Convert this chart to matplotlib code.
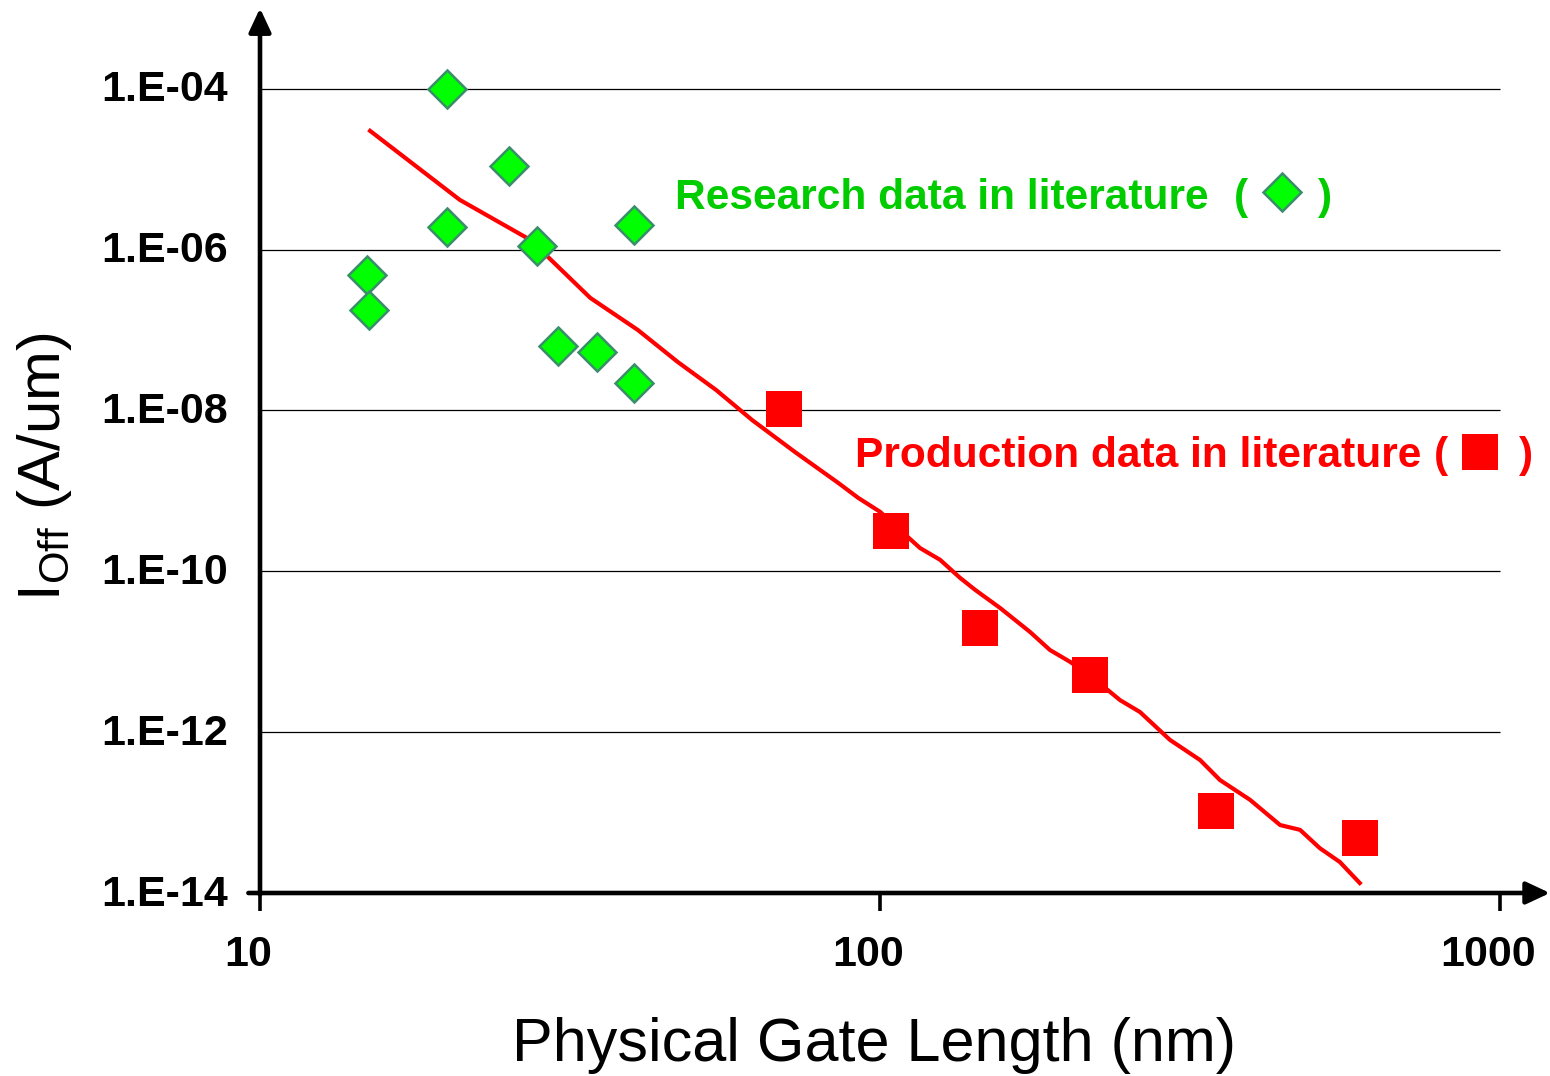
import matplotlib
matplotlib.use("Agg")
import matplotlib.pyplot as plt
from matplotlib.lines import Line2D
from matplotlib.transforms import ScaledTranslation

# ---- data ----
research_x = [20.0, 25.2, 20.0, 28.0, 40.1, 14.9, 15.0, 30.2, 35.0, 40.1]
research_y = [1.0e-4, 1.1e-5, 1.9e-6, 1.1e-6, 2.0e-6, 4.9e-7, 1.8e-7, 6.3e-8, 5.3e-8, 2.2e-8]

production_x = [70.0, 104.0, 145.0, 218.0, 348.0, 594.0]
production_y = [1.05e-8, 3.2e-10, 2.0e-11, 5.1e-12, 1.05e-13, 4.8e-14]

trend_x = [15.05, 21.0, 27.3, 34.1, 40.7, 47.2, 54.4, 62.2, 72.9, 85.6, 92.2, 100.0,
           116.0, 125.0, 134.6, 142.3, 156.2, 174.6, 188.0, 202.5, 218.0, 243.9,
           262.6, 293.6, 328.3, 353.4, 395.2, 441.9, 475.8, 512.3, 551.6, 594.0]
trend_y = [3.0e-5, 4.16e-6, 1.32e-6, 2.51e-7, 1.0e-7, 4.0e-8, 1.8e-8, 7.6e-9, 3.05e-9,
           1.26e-9, 8.2e-10, 5.5e-10, 1.95e-10, 1.39e-10, 8.3e-11, 5.9e-11, 3.5e-11,
           1.76e-11, 1.05e-11, 7.5e-12, 5.1e-12, 2.5e-12, 1.78e-12, 8.0e-13, 4.5e-13,
           2.54e-13, 1.44e-13, 7.0e-14, 6.1e-14, 3.6e-14, 2.43e-14, 1.33e-14]

x_ticks = [10, 100, 1000]
x_tick_labels = ["10", "100", "1000"]
y_ticks = [1e-14, 1e-12, 1e-10, 1e-8, 1e-6, 1e-4]
y_tick_labels = ["1.E-14", "1.E-12", "1.E-10", "1.E-08", "1.E-06", "1.E-04"]
grid_levels = [1e-12, 1e-10, 1e-8, 1e-6, 1e-4]

x_label = "Physical Gate Length (nm)"
y_label = r"I$_{\mathrm{Off}}$ (A/um)"
research_text = "Research data in literature"
production_text = "Production data in literature"

GREEN_TEXT = "#00CC00"
GREEN_FILL = "#00FF00"
GREEN_EDGE = "#3A8F6A"
RED = "#FF0000"

plt.rcParams["font.family"] = ["Liberation Sans", "DejaVu Sans"]
plt.rcParams["mathtext.fontset"] = "custom"
plt.rcParams["mathtext.rm"] = "Liberation Sans"
plt.rcParams["mathtext.it"] = "Liberation Sans:italic"
plt.rcParams["mathtext.bf"] = "Liberation Sans:bold"

W, H = 1550, 1076
fig = plt.figure(figsize=(W / 100, H / 100), dpi=100)
fig.patch.set_facecolor("white")

ax = fig.add_axes([260 / W, (H - 893) / H, 1290 / W, 883 / H])
ax.set_xscale("log")
ax.set_yscale("log")
ax.set_xlim(10, 10 ** 3.0806)
ax.set_ylim(1e-14, 10 ** -3.02)

for s in ax.spines.values():
    s.set_visible(False)

# horizontal gridlines from 10 to 1000
ax.hlines(grid_levels, 10, 1000, colors="black", linewidth=0.9, zorder=1)

# trend line
ax.plot(trend_x, trend_y, color=RED, linewidth=3.0, zorder=3)

# research diamonds
ax.plot(research_x, research_y, linestyle="none", marker="D", markersize=19.5,
        markerfacecolor=GREEN_FILL, markeredgecolor=GREEN_EDGE, markeredgewidth=1.8, zorder=4)
# production squares
ax.plot(production_x, production_y, linestyle="none", marker="s", markersize=26,
        markerfacecolor=RED, markeredgecolor=RED, markeredgewidth=0, zorder=4)

# ticks
ax.set_xticks(x_ticks)
ax.set_xticklabels(x_tick_labels)
ax.set_yticks(y_ticks)
ax.set_yticklabels(y_tick_labels)
ax.minorticks_off()
ax.tick_params(axis="x", direction="out", length=13, width=2.6, pad=17,
               labelsize=31)
ax.tick_params(axis="y", length=0, pad=23, labelsize=31)
for lab in ax.get_xticklabels() + ax.get_yticklabels():
    lab.set_fontweight("bold")
offset = ScaledTranslation(-12 / 100, 0, fig.dpi_scale_trans)
for lab in ax.get_xticklabels():
    lab.set_transform(lab.get_transform() + offset)
yoff = ScaledTranslation(0, 3 / 100, fig.dpi_scale_trans)
for lab in ax.get_yticklabels():
    lab.set_transform(lab.get_transform() + yoff)

# axis arrows
arrow_kw = dict(arrowstyle="-|>,head_length=0.6,head_width=0.28", lw=3.3,
                color="black", mutation_scale=24, shrinkA=0, shrinkB=0)
ax.annotate("", xy=(1.0, 0.0), xytext=(-0.009, 0.0), xycoords="axes fraction",
            textcoords="axes fraction", arrowprops=arrow_kw, annotation_clip=False, zorder=6)
ax.annotate("", xy=(0.0, 1.002), xytext=(0.0, -0.002), xycoords="axes fraction",
            textcoords="axes fraction", arrowprops=arrow_kw, annotation_clip=False, zorder=6)

# axis labels
fig.text(874 / W, (H - 1046) / H, x_label, ha="center", va="center", fontsize=44)
fig.text(44 / W, (H - 467) / H, y_label, ha="center", va="center", fontsize=43,
         rotation=90)

# annotations
fs_ann = 30.6
fig.text(675 / W, (H - 209) / H, research_text, ha="left", va="baseline",
         fontsize=fs_ann, fontweight="bold", color=GREEN_TEXT)
fig.text(1234 / W, (H - 209) / H, "(", ha="left", va="baseline",
         fontsize=fs_ann, fontweight="bold", color=GREEN_TEXT)
fig.text(1318 / W, (H - 209) / H, ")", ha="left", va="baseline",
         fontsize=fs_ann, fontweight="bold", color=GREEN_TEXT)
fig.add_artist(Line2D([1282 / W], [(H - 192) / H], transform=fig.transFigure,
                      linestyle="none", marker="D", markersize=19.5,
                      markerfacecolor=GREEN_FILL, markeredgecolor=GREEN_EDGE,
                      markeredgewidth=1.8))

fig.text(855 / W, (H - 467) / H, production_text, ha="left", va="baseline",
         fontsize=fs_ann, fontweight="bold", color=RED)
fig.text(1434 / W, (H - 467) / H, "(", ha="left", va="baseline",
         fontsize=fs_ann, fontweight="bold", color=RED)
fig.text(1519 / W, (H - 467) / H, ")", ha="left", va="baseline",
         fontsize=fs_ann, fontweight="bold", color=RED)
fig.add_artist(Line2D([1480 / W], [(H - 452) / H], transform=fig.transFigure,
                      linestyle="none", marker="s", markersize=26,
                      markerfacecolor=RED, markeredgewidth=0))

fig.savefig("out.png", dpi=100, facecolor="white")
